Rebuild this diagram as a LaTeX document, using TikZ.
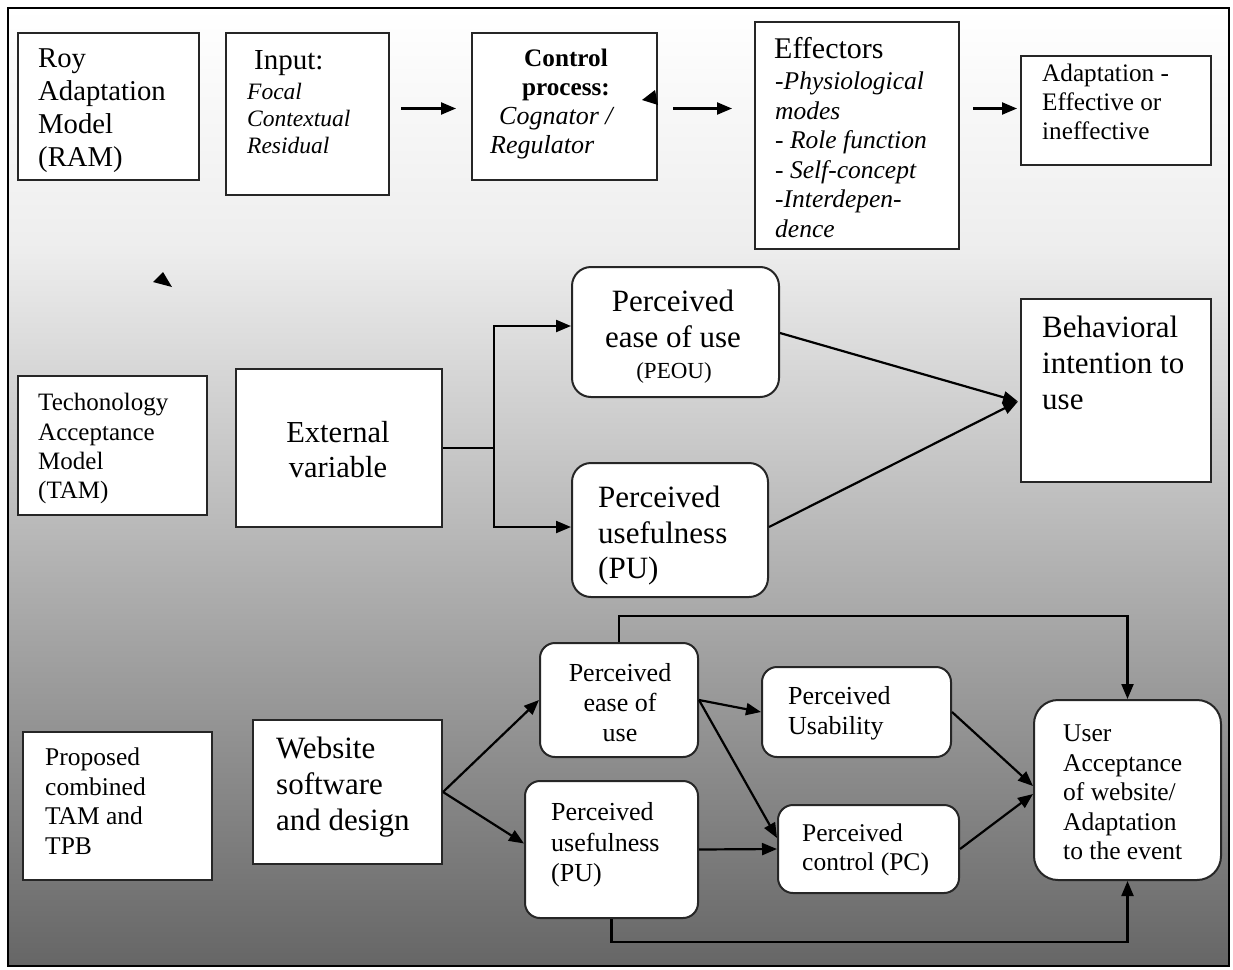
\documentclass[tikz,border=0pt]{standalone}
\usepackage{fontspec}
\setmainfont{Liberation Serif}
\usetikzlibrary{arrows.meta,calc,fit}
\newcommand\Strut{\rule{0pt}{0.75em}}
\newcommand\fs[2]{\fontsize{#1}{#2}\selectfont}
\definecolor{bgA}{gray}{0.93}
\definecolor{bgB}{gray}{0.40}
\begin{document}
\begin{tikzpicture}[x=1pt,y=-1pt,
  box/.style={draw=black!85, line width=2pt, fill=white, inner sep=0pt},
  rbox/.style={box, rounded corners=19pt},
  sbox/.style={box, rounded corners=15pt},
  lbl/.style={inner sep=0pt, anchor=north west, align=left},
  clbl/.style={inner sep=0pt, anchor=north, align=center},
  arr/.style={line width=2.2pt, -{Triangle[length=15pt,width=12pt]}},
  wire/.style={line width=2.2pt}]
\useasboundingbox (0,0) rectangle (1233,969);

% background panel with vertical gradient
\shade[top color=white, bottom color=bgA] (8,8) rectangle (1229,250);
\shade[top color=bgA, bottom color=bgB] (8,250) rectangle (1229,966);
\draw[line width=2.5pt] (8,8) rectangle (1229,966);

% ---------- Roy Adaptation Model ----------
\node[box, fit={(18,33) (199,180)}] (roy) {};
\node[box, fit={(226,33) (389,195)}] (input) {};
\node[box, fit={(472,33) (657,180)}] (control) {};
\node[box, fit={(755,22) (959,249)}] (effectors) {};
\node[box, fit={(1021,56) (1211,165)}] (adapt) {};

\node[lbl, font=\fs{28.7}{33}] (royT) at (38,46) {\Strut Roy\\Adaptation\\Model\\(RAM)};
\node[lbl, font=\fs{29}{33}] (inT) at (254,47.7) {\Strut Input:};
\node[lbl, font=\fs{23.5}{27}\itshape] (inL) at (247,81.4) {\Strut Focal\\Contextual\\Residual};
\node[clbl, font=\fs{25.2}{29}\bfseries] (ctT) at (566,47.6) {\Strut Control\\process:};
\node[lbl, font=\fs{26}{29}\itshape] (ctL) at (490,105) {\Strut\hspace*{9pt}Cognator /\\Regulator};
\node[lbl, font=\fs{30}{33}] (efT) at (774,35.5) {\Strut Effectors};
\node[lbl, font=\fs{25.5}{29.5}\itshape] (efL) at (775,70.4) {\Strut -Physiological\\modes\\- Role function\\- Self-concept\\-Interdepen-\\dence};
\node[lbl, font=\fs{25.2}{29}] (adT) at (1042,62.6) {\Strut Adaptation -\\Effective or\\ineffective};

\coordinate (row1) at ($(control.west)+(0,2)$);
\draw[arr, shorten <=11pt, shorten >=15pt] (input.east |- row1) -- (row1);
\draw[arr, shorten <=15pt, shorten >=22pt] (row1 -| control.east) -- (row1 -| effectors.west);
\draw[arr, shorten <=13pt, shorten >=3pt] (row1 -| effectors.east) -- (row1 -| adapt.west);

% loose arrowheads
\fill (642,100) -- (655,90) -- (658,105) -- cycle;
\fill (163,272) -- (153,282) -- (172,287) -- cycle;

% ---------- Technology Acceptance Model ----------
\node[box, fit={(18,376) (207,515)}] (tam) {};
\node[box, fit={(236,369) (442,527)}] (ext) {};
\node[rbox, fit={(572,267) (779,397)}] (peou) {};
\node[rbox, fit={(572,463) (768,597)}] (pu) {};
\node[box, fit={(1021,299) (1211,482)}] (beh) {};

\node[lbl, font=\fs{25}{29.3}] (tamT) at (38,391.75) {\Strut Techonology\\Acceptance\\Model\\(TAM)};
\node[clbl, font=\fs{30.5}{35}] (extT) at (338,419) {\Strut External\\variable};
\node[clbl, font=\fs{31}{36}] (peouT) at (673,288.25) {\Strut Perceived\\ease of use};
\node[clbl, font=\fs{23}{27}] (peouA) at (674,360.75) {\Strut (PEOU)};
\node[lbl, font=\fs{31}{35.5}] (puT) at (598,484.25) {\Strut Perceived\\usefulness\\(PU)};
\node[lbl, font=\fs{31}{36}] (behT) at (1042,314.25) {\Strut Behavioral\\intention to\\use};

\draw[wire] (ext.east) -- ++(51,0) coordinate (split);
\draw[arr] (split) |- ($(peou.west)+(0,-6)$);
\draw[arr] (split) |- ($(pu.west)+(0,-3)$);
\coordinate (bi) at ($(beh.west)+(-2,11)$);
\draw[arr] ($(peou.east)+(0,1)$) -- (bi);
\draw[arr] ($(pu.east)+(0,-3)$) -- (bi);

% ---------- Proposed combined TAM and TPB ----------
\node[box, fit={(23,732) (212,880)}] (prop) {};
\node[box, fit={(253,720) (442,864)}] (web) {};
\node[sbox, fit={(540,643) (698,757)}] (peou3) {};
\node[sbox, fit={(525,781) (698,918)}] (pu3) {};
\node[sbox, fit={(762,667) (951,757)}] (usab) {};
\node[sbox, fit={(778,805) (959,893)}] (pc) {};
\node[box, rounded corners=24pt, fit={(1034,700) (1221,880)}] (user) {};

\node[lbl, font=\fs{25.5}{29.5}] (propT) at (45,746.4) {\Strut Proposed\\combined\\TAM and\\TPB};
\node[lbl, font=\fs{31}{36}] (webT) at (276,734.75) {\Strut Website\\software\\and design};
\node[clbl, font=\fs{26}{30}] (peou3T) at (620,662) {\Strut Perceived\\ease of\\use};
\node[lbl, font=\fs{26}{30.5}] (pu3T) at (551,801) {\Strut Perceived\\usefulness\\(PU)};
\node[lbl, font=\fs{26}{30}] (usabT) at (788,685) {\Strut Perceived\\Usability};
\node[lbl, font=\fs{25.5}{29}] (pcT) at (802,822.4) {\Strut Perceived\\control (PC)};
\node[lbl, font=\fs{25.5}{29.5}] (userT) at (1063,722.4) {\Strut User\\Acceptance\\of website/\\Adaptation\\to the event};

\draw[arr] (web.east) -- (peou3.west);
\draw[arr] (web.east) -- ($(pu3.west)+(0,-6)$);
\draw[arr] (peou3.east) -- (usab.west);
\draw[arr] (peou3.east) -- ($(pc.west)+(0,-11)$);
\draw[arr] (pu3.east) -- (pc.west);
\draw[arr] (usab.east) -- ($(user.west)+(0,-4)$);
\draw[arr] (pc.east) -- ($(user.west)+(0,4)$);
\draw[arr] (peou3.north) -- ++(0,-26) -| (user.north);
\draw[arr] (pu3.south) -- ++(0,23) -| (user.south);
\end{tikzpicture}
\end{document}
